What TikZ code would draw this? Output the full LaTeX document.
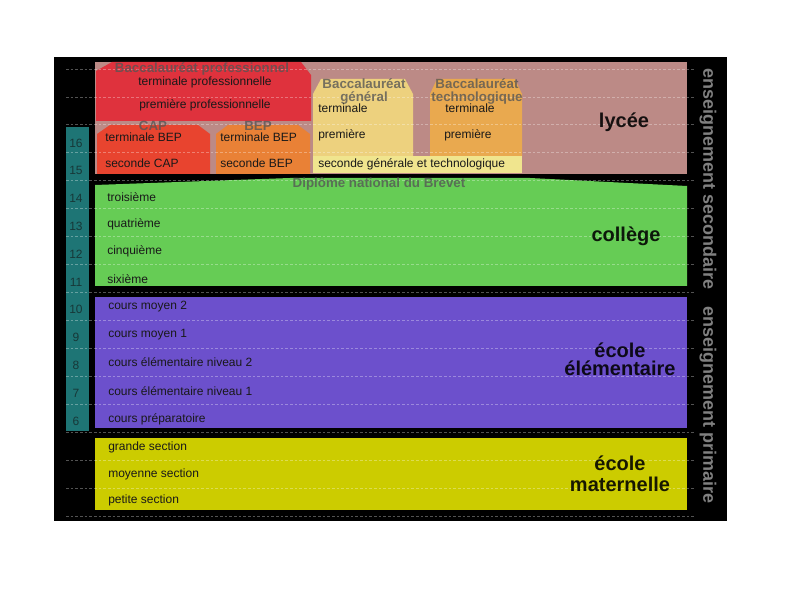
\documentclass[tikz,border=0pt]{standalone}
\usepackage{fontspec}
\setmainfont{Liberation Sans}

\definecolor{lyceeband}{HTML}{BC8A86}
\definecolor{bacpro}{HTML}{DF323D}
\definecolor{capbox}{HTML}{E8442F}
\definecolor{bepbox}{HTML}{E98136}
\definecolor{bacgen}{HTML}{EDD17E}
\definecolor{bactech}{HTML}{E9A94F}
\definecolor{secondebox}{HTML}{F0E58E}
\definecolor{collegeband}{HTML}{66CC55}
\definecolor{elemband}{HTML}{6C50CC}
\definecolor{materband}{HTML}{CCCC00}
\definecolor{agecol}{HTML}{1E7575}
\definecolor{agetext}{HTML}{173838}
\definecolor{examgrey}{HTML}{555555}
\definecolor{stagegrey}{HTML}{808080}

\begin{document}
\begin{tikzpicture}[x = 0.75pt, y = -0.75pt,
	grade/.style = {anchor = west, inner sep = 0pt, font = \fontsize{9}{10}\selectfont, text = black!90},
	exam/.style = {inner sep = 0pt, align = center, text = examgrey, text opacity = 0.78,
		font = \bfseries\fontsize{10}{9.8}\selectfont},
	level/.style = {inner sep = 0pt, align = center, text opacity = 0.88,
		font = \bfseries\fontsize{15}{13.5}\selectfont},
	stage/.style = {inner sep = 0pt, rotate = -90, text = stagegrey,
		font = \bfseries\fontsize{13.5}{14}\selectfont},
	age/.style = {inner sep = 0pt, text = agetext, font = \fontsize{9}{10}\selectfont},
	rowline/.style = {white, opacity = 0.32, line width = 0.6pt, dash pattern = on 2pt off 1.5pt}]

	\useasboundingbox (0, 0) rectangle (794, 595);

	% Background

	\fill [black] (54, 57) rectangle (727, 521);

	% Age column

	\fill [agecol] (66, 127) rectangle (89, 431);

	% Bands

	\fill [lyceeband] (95, 62) rectangle (687, 174);
	\fill [collegeband] (95, 185) -- (290, 178) -- (530, 178) -- (687, 186) -- (687, 286) -- (95, 286) -- cycle;
	\fill [elemband] (95, 297) rectangle (687, 428);
	\fill [materband] (95, 438) rectangle (687, 510);

	% Lycee tracks

	\fill [bacpro] (96, 71) -- (112, 62) -- (301, 62) -- (311, 75) -- (311, 121) -- (96, 121) -- cycle;
	\fill [capbox] (97, 134) -- (110, 125) -- (198, 125) -- (210, 134) -- (210, 174) -- (97, 174) -- cycle;
	\fill [bepbox] (216, 134) -- (228, 125) -- (298, 125) -- (310, 134) -- (310, 174) -- (216, 174) -- cycle;
	\fill [bacgen] (313, 157) -- (313, 94) -- (321, 79) -- (405, 79) -- (413, 94) -- (413, 157) -- cycle;
	\fill [bactech] (430, 157) -- (430, 94) -- (437, 79) -- (515, 79) -- (522, 94) -- (522, 157) -- cycle;
	\fill [secondebox] (313, 156) rectangle (522, 173);

	% Row rulings

	\foreach \k in {0, ..., 16}
		\draw [rowline] (66, {69 + 27.94 * \k}) -- (694, {69 + 27.94 * \k});

	% Ages

	\foreach \n in {6, ..., 16}
		\node [age] (age-\n) at (76, {143 + (16 - \n) * 27.8}) {\n};

	% Exam labels

	\node [exam] (bac-pro) at (202, 69) {Baccalauréat professionnel};
	\node [exam] (cap) at (153, 126) {CAP};
	\node [exam] (bep) at (258, 126) {BEP};
	\node [exam] (bac-gen) at (364, 91.5) {Baccalauréat\\général};
	\node [exam] (bac-tech) at (477, 91.5) {Baccalauréat\\technologique};
	\node [exam] (brevet) at (379, 184) {Diplôme national du Brevet};

	% Lycee grades

	\node [grade, anchor = center] (term-pro) at (205, 82) {terminale professionnelle};
	\node [grade, anchor = center] (prem-pro) at (205, 105) {première professionnelle};
	\node [grade] (term-cap) at (105, 137) {terminale BEP};
	\node [grade] (sec-cap) at (105, 163) {seconde CAP};
	\node [grade] (term-bep) at (220, 137) {terminale BEP};
	\node [grade] (sec-bep) at (220, 163) {seconde BEP};
	\node [grade] (term-gen) at (318, 108) {terminale};
	\node [grade] (prem-gen) at (318, 135) {première};
	\node [grade] (term-tech) at (445, 108) {terminale};
	\node [grade] (prem-tech) at (444, 135) {première};
	\node [grade] (sec-gt) at (318, 164) {seconde générale et technologique};

	% College, elementaire, maternelle grades

	\foreach \txt/\y [count = \i] in {troisième/197, quatrième/224, cinquième/251, sixième/279}
		\node [grade] (col-\i) at (107, \y) {\txt};

	\foreach \txt/\y [count = \i] in {cours moyen 2/307, cours moyen 1/335,
		cours élémentaire niveau 2/362, cours élémentaire niveau 1/391, cours préparatoire/419}
		\node [grade] (elem-\i) at (108, \y) {\txt};

	\foreach \txt/\y [count = \i] in {grande section/447, moyenne section/474, petite section/500}
		\node [grade] (mat-\i) at (108, \y) {\txt};

	% Level labels

	\node [level] (lycee) at (624, 122) {lycée};
	\node [level] (college) at (626, 236) {collège};
	\node [level] (elementaire) at (620, 359.5) {école\\élémentaire};
	\node [level, font = \bfseries\fontsize{15}{15.5}\selectfont] (maternelle) at (620, 473.5) {école\\maternelle};

	% Stages

	\node [stage] (secondaire) at (708, 179) {enseignement secondaire};
	\node [stage] (primaire) at (708, 405) {enseignement primaire};

\end{tikzpicture}
\end{document}
